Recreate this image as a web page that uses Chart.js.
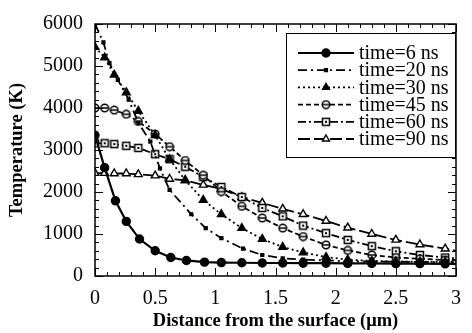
<!DOCTYPE html>
<html>
<head>
<meta charset="utf-8">
<script src="https://cdn.jsdelivr.net/npm/chart.js@4/dist/chart.umd.min.js"></script>
<style>
  html, body { margin: 0; padding: 0; background: #fff; }
  #wrap { width: 472px; height: 333px; }
</style>
</head>
<body>
<div id="wrap"><canvas id="chart_temperatureProfile"></canvas></div>
<script>
// distance from the surface (um)
const x6ns = [0, 0.08, 0.17, 0.26, 0.37, 0.50, 0.63, 0.76, 0.91, 1.05, 1.22, 1.39, 1.56, 1.73, 1.92, 2.10, 2.30, 2.50, 2.70, 2.91, 3.0];
const x20ns = [0, 0.07, 0.12, 0.19, 0.28, 0.36, 0.46, 0.54, 0.62, 0.80, 0.92, 1.05, 1.23, 1.39, 1.56, 1.73, 1.92, 2.10, 2.30, 2.50, 2.70, 2.91, 3.0];
const xLater = [0, 0.08, 0.16, 0.26, 0.36, 0.50, 0.62, 0.75, 0.90, 1.05, 1.22, 1.39, 1.56, 1.73, 1.92, 2.10, 2.30, 2.50, 2.70, 2.91, 3.0];

// temperature (K)
const t6ns = [3350, 2580, 1790, 1300, 880, 600, 440, 370, 330, 320, 315, 310, 310, 305, 305, 300, 300, 295, 295, 290, 290];
const t20ns = [6000, 5560, 5070, 4670, 4200, 3650, 3200, 2560, 2050, 1470, 1140, 900, 650, 500, 420, 390, 370, 355, 345, 340, 335, 330, 330];
const t30ns = [5450, 5200, 4790, 4370, 3930, 3350, 2780, 2280, 1810, 1470, 1140, 880, 690, 560, 450, 390, 360, 345, 340, 335, 335];
const t45ns = [4000, 4000, 3950, 3850, 3680, 3380, 3080, 2750, 2400, 2010, 1660, 1380, 1140, 940, 740, 610, 500, 440, 410, 380, 370];
const t60ns = [3160, 3160, 3140, 3100, 3050, 2900, 2780, 2600, 2360, 2120, 1880, 1620, 1420, 1200, 1020, 860, 710, 590, 500, 440, 420];
const t90ns = [2450, 2450, 2440, 2440, 2420, 2390, 2310, 2280, 2170, 2070, 1880, 1740, 1600, 1470, 1310, 1150, 1000, 860, 750, 650, 600];

const seriesLabels = ['time=6 ns', 'time=20 ns', 'time=30 ns', 'time=45 ns', 'time=60 ns', 'time=90 ns'];
const xTicks = [0, 0.5, 1, 1.5, 2, 2.5, 3];
const yTicks = [0, 1000, 2000, 3000, 4000, 5000, 6000];

const SERIF = '"Liberation Serif", "DejaVu Serif", serif';

function toPoints(xs, ys) {
  return xs.map((x, i) => ({ x: x, y: ys[i] }));
}

// circle with a bar through it
function makeBarCircle() {
  const c = document.createElement('canvas');
  c.width = 10; c.height = 10;
  const g = c.getContext('2d');
  g.fillStyle = '#fff';
  g.strokeStyle = '#000';
  g.lineWidth = 1.5;
  g.beginPath(); g.arc(5, 5, 3.8, 0, Math.PI * 2); g.fill(); g.stroke();
  g.beginPath(); g.moveTo(2, 5); g.lineTo(8, 5); g.stroke();
  return c;
}
// square with a dot in it
function makeDotSquare() {
  const c = document.createElement('canvas');
  c.width = 10; c.height = 10;
  const g = c.getContext('2d');
  g.fillStyle = '#fff';
  g.fillRect(1, 1, 8, 8);
  g.strokeStyle = '#000';
  g.lineWidth = 1.5;
  g.strokeRect(1.5, 1.5, 7, 7);
  g.fillStyle = '#000';
  g.fillRect(4, 4, 2, 2);
  return c;
}

const lastHidden = (r) => (ctx) => ctx.dataIndex === ctx.dataset.data.length - 1 ? 0 : r;

const datasets = [
  { label: seriesLabels[0], data: toPoints(x6ns, t6ns), borderDash: [], borderWidth: 2.2,
    pointStyle: 'circle', pointRadius: lastHidden(4), backgroundColor: '#000', legendRadius: 4 },
  { label: seriesLabels[1], data: toPoints(x20ns, t20ns), borderDash: [9, 4, 2, 4],
    pointStyle: 'rect', pointRadius: lastHidden(2), backgroundColor: '#000', legendRadius: 2 },
  { label: seriesLabels[2], data: toPoints(xLater, t30ns), borderDash: [2, 3],
    pointStyle: 'triangle', pointRadius: lastHidden(4.5), backgroundColor: '#000', legendRadius: 4 },
  { label: seriesLabels[3], data: toPoints(xLater, t45ns), borderDash: [5, 3],
    pointStyle: makeBarCircle(), pointRadius: lastHidden(5), backgroundColor: '#fff', legendRadius: 4 },
  { label: seriesLabels[4], data: toPoints(xLater, t60ns), borderDash: [8, 3, 2, 3],
    pointStyle: makeDotSquare(), pointRadius: lastHidden(5), backgroundColor: '#fff', legendRadius: 4 },
  { label: seriesLabels[5], data: toPoints(xLater, t90ns), borderDash: [12, 4],
    pointStyle: 'triangle', pointRadius: lastHidden(4.5), backgroundColor: '#fff', legendRadius: 4 }
].map(ds => Object.assign({
  borderColor: '#000',
  pointBorderColor: '#000',
  pointBackgroundColor: ds.backgroundColor,
  pointBorderWidth: 1.4,
  borderWidth: 1.8,
  tension: 0,
  showLine: true,
  fill: false
}, ds));

// frame, inward ticks and boxed legend
const framePlugin = {
  id: 'framePlugin',
  afterDatasetsDraw(chart) {
    const ctx = chart.ctx;
    const a = chart.chartArea;
    const xs = chart.scales.x, ys = chart.scales.y;
    ctx.save();
    ctx.strokeStyle = '#000';
    ctx.lineWidth = 1.5;
    ctx.setLineDash([]);
    ctx.strokeRect(a.left, a.top, a.right - a.left, a.bottom - a.top);
    ctx.lineWidth = 1;
    ctx.beginPath();
    for (let i = 0; i <= 30; i++) {
      const px = Math.round(xs.getPixelForValue(i / 10)) + 0.5;
      const len = i % 5 === 0 ? 8 : 4;
      ctx.moveTo(px, a.bottom); ctx.lineTo(px, a.bottom - len);
      ctx.moveTo(px, a.top); ctx.lineTo(px, a.top + len);
    }
    for (let i = 0; i <= 30; i++) {
      const py = Math.round(ys.getPixelForValue(i * 200)) + 0.5;
      const len = i % 5 === 0 ? 8 : 4;
      ctx.moveTo(a.left, py); ctx.lineTo(a.left + len, py);
      ctx.moveTo(a.right, py); ctx.lineTo(a.right - len, py);
    }
    ctx.stroke();

    // legend box
    const bx = 286, by = 33, bw = 169, bh = 124;
    ctx.fillStyle = '#fff';
    ctx.fillRect(bx, by, bw, bh);
    ctx.lineWidth = 1;
    ctx.strokeRect(bx + 0.5, by + 0.5, bw, bh);
    ctx.font = '20px ' + SERIF;
    ctx.textBaseline = 'middle';
    chart.data.datasets.forEach((ds, i) => {
      const y = by + 20 + i * 17.2;
      ctx.strokeStyle = '#000';
      ctx.lineWidth = ds.borderWidth;
      ctx.setLineDash(ds.borderDash);
      ctx.beginPath(); ctx.moveTo(298, y); ctx.lineTo(354, y); ctx.stroke();
      ctx.setLineDash([]);
      ctx.fillStyle = ds.pointBackgroundColor;
      ctx.lineWidth = 1.4;
      Chart.helpers.drawPoint(ctx, { pointStyle: ds.pointStyle, radius: ds.legendRadius, borderWidth: 1.4, rotation: 0 }, 326, y);
      ctx.fillStyle = '#000';
      ctx.fillText(ds.label, 359, y + 1);
    });
    ctx.restore();
  }
};

const chart_temperatureProfile = new Chart(document.getElementById('chart_temperatureProfile'), {
  type: 'line',
  data: { datasets: datasets },
  options: {
    animation: false,
    responsive: true,
    maintainAspectRatio: false,
    layout: { padding: { top: 18, right: 6, left: 0, bottom: 0 } },
    plugins: {
      legend: { display: false },
      tooltip: { enabled: false }
    },
    scales: {
      x: {
        type: 'linear',
        min: 0,
        max: 3,
        afterFit: (s) => { s.height = 57; },
        afterBuildTicks: (s) => { s.ticks = xTicks.map(v => ({ value: v })); },
        ticks: { color: '#000', padding: 11, maxRotation: 0, font: { family: SERIF, size: 20 },
          callback: (v) => String(v) },
        grid: { display: false, drawTicks: false },
        border: { display: false },
        title: {
          display: true,
          text: 'Distance from the surface (\u03bcm)',
          color: '#000',
          font: { family: SERIF, size: 18.5, weight: 'bold' },
          padding: { top: 0, bottom: 1 }
        }
      },
      y: {
        type: 'linear',
        min: 0,
        max: 6000,
        afterFit: (s) => { s.width = 95; },
        afterBuildTicks: (s) => { s.ticks = yTicks.map(v => ({ value: v })); },
        ticks: { color: '#000', padding: 12, font: { family: SERIF, size: 20 },
          callback: (v) => String(v) },
        grid: { display: false, drawTicks: false },
        border: { display: false },
        title: {
          display: true,
          text: 'Temperature (K)',
          color: '#000',
          font: { family: SERIF, size: 18.5, weight: 'bold' },
          padding: { top: 6, bottom: 0 }
        }
      }
    }
  },
  plugins: [framePlugin, {
    id: 'whiteBackground',
    beforeDraw: (chart) => {
      const ctx = chart.canvas.getContext('2d');
      ctx.save();
      ctx.globalCompositeOperation = 'destination-over';
      ctx.fillStyle = 'white';
      ctx.fillRect(0, 0, chart.canvas.width, chart.canvas.height);
      ctx.restore();
    }
  }]
});
</script>
</body>
</html>
